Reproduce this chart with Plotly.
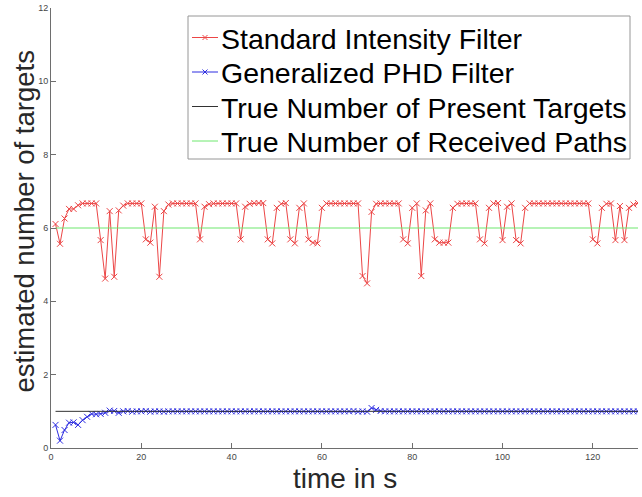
import plotly.graph_objects as go

# time steps in seconds
time_s = list(range(1, 131))

# estimated number of targets, standard intensity filter
standard_filter = [
    6.11, 5.57, 6.26, 6.52, 6.52, 6.62, 6.67, 6.67, 6.67, 6.67,
    5.67, 4.62, 6.46, 4.67, 6.48, 6.61, 6.67, 6.67, 6.67, 6.67,
    5.69, 5.60, 6.58, 4.67, 6.46, 6.64, 6.67, 6.67, 6.67, 6.67,
    6.67, 6.67, 5.69, 6.58, 6.65, 6.67, 6.67, 6.67, 6.67, 6.67,
    6.67, 5.69, 6.58, 6.66, 6.68, 6.68, 6.68, 5.69, 5.58, 6.55,
    6.66, 6.68, 5.69, 5.58, 6.55, 6.67, 5.69, 5.60, 5.58, 6.55,
    6.67, 6.67, 6.67, 6.67, 6.67, 6.67, 6.67, 6.67, 4.69, 4.49,
    6.44, 6.66, 6.67, 6.67, 6.67, 6.67, 6.67, 5.69, 5.58, 6.55,
    6.67, 4.69, 6.48, 6.67, 5.69, 5.60, 5.60, 5.60, 6.55, 6.66,
    6.67, 6.67, 6.67, 6.67, 5.69, 5.58, 6.55, 6.67, 6.68, 5.67,
    6.58, 6.67, 5.67, 5.58, 6.55, 6.67, 6.67, 6.67, 6.67, 6.67,
    6.67, 6.67, 6.67, 6.67, 6.67, 6.67, 6.67, 6.67, 6.67, 5.69,
    5.58, 6.55, 6.66, 6.67, 5.67, 6.60, 5.67, 6.55, 6.64, 6.68,
]

# estimated number of targets, generalized PHD filter
generalized_phd = [
    0.63, 0.20, 0.49, 0.69, 0.70, 0.63, 0.76, 0.85, 0.93, 0.92,
    0.93, 0.96, 1.02, 1.01, 0.96, 1.00, 1.01, 0.99, 1.00, 1.00,
    1.01, 0.99, 1.00, 1.00, 0.99, 1.00, 1.00, 1.00, 1.00, 1.00,
    1.00, 1.00, 1.00, 1.00, 1.00, 1.00, 1.00, 1.00, 1.00, 1.00,
    1.00, 1.00, 1.00, 1.00, 1.00, 1.00, 1.00, 1.00, 1.00, 1.00,
    1.00, 1.00, 1.00, 1.00, 1.00, 1.00, 1.00, 1.00, 1.00, 1.00,
    1.00, 1.00, 1.00, 1.00, 1.00, 1.00, 1.01, 0.99, 1.00, 0.99,
    1.09, 1.04, 1.01, 1.00, 1.00, 1.00, 1.00, 1.00, 1.00, 1.00,
    1.00, 1.00, 1.00, 1.00, 1.00, 1.00, 1.00, 1.00, 1.00, 1.00,
    1.00, 1.00, 1.00, 1.00, 1.00, 1.00, 1.00, 1.00, 1.00, 1.00,
    1.00, 1.00, 1.00, 1.00, 1.00, 1.00, 1.00, 1.00, 1.00, 1.00,
    1.00, 1.00, 1.00, 1.00, 1.00, 1.00, 1.00, 1.00, 1.00, 1.00,
    1.00, 1.00, 1.00, 1.00, 1.00, 1.00, 1.00, 1.00, 1.00, 1.00,
]

true_present_targets = [1] * len(time_s)
true_received_paths = [6] * len(time_s)

series_names = [
    "Standard Intensity Filter",
    "Generalized PHD Filter",
    "True Number of Present Targets",
    "True Number of Received Paths",
]

FONT = "Liberation Sans, Arial, Helvetica, sans-serif"
RED = "rgb(236,70,70)"
BLUE = "rgb(45,45,225)"
BLACK = "rgb(50,50,50)"
GREEN = "rgb(110,232,110)"
series_colors = [RED, BLUE, BLACK, GREEN]
series_has_marker = [True, True, False, False]

fig = go.Figure()
fig.add_trace(go.Scatter(
    x=time_s, y=standard_filter, mode="lines+markers", name=series_names[0],
    line=dict(color=RED, width=1),
    marker=dict(symbol="x-thin", size=6, line=dict(width=1, color=RED)),
))
fig.add_trace(go.Scatter(
    x=time_s, y=generalized_phd, mode="lines+markers", name=series_names[1],
    line=dict(color=BLUE, width=1),
    marker=dict(symbol="x-thin", size=6, line=dict(width=1, color=BLUE)),
))
fig.add_trace(go.Scatter(
    x=time_s, y=true_present_targets, mode="lines", name=series_names[2],
    line=dict(color=BLACK, width=1),
))
fig.add_trace(go.Scatter(
    x=time_s, y=true_received_paths, mode="lines", name=series_names[3],
    line=dict(color=GREEN, width=1.2),
))

axis_common = dict(
    showgrid=False, zeroline=False, showline=True,
    linecolor="rgb(110,110,110)", linewidth=1,
    ticks="inside", ticklen=5, tickcolor="rgb(110,110,110)",
    tickfont=dict(family=FONT, size=9, color="rgb(70,70,70)"),
)

# plot area geometry (pixels) used to place the boxed legend
W, H = 642, 497
M_L, M_R, M_T, M_B = 51, 4, 8, 49
PW, PH = W - M_L - M_R, H - M_T - M_B


def px_x(x):
    return (x - M_L) / PW


def px_y(y):
    return (H - M_B - y) / PH


shapes = []
annotations = []

# legend frame
shapes.append(dict(type="rect", xref="paper", yref="paper",
                   x0=px_x(188), x1=px_x(630), y0=px_y(159), y1=px_y(16),
                   line=dict(color="rgb(150,150,150)", width=1),
                   fillcolor="white", layer="above"))

row_y = [37.5, 72, 106.5, 141]
for name, color, marked, ry in zip(series_names, series_colors, series_has_marker, row_y):
    shapes.append(dict(type="line", xref="paper", yref="paper",
                       x0=px_x(192), x1=px_x(218), y0=px_y(ry), y1=px_y(ry),
                       line=dict(color=color, width=1), layer="above"))
    if marked:
        d = 2.5
        cx = 205
        path = (f"M{px_x(cx - d)},{px_y(ry - d)} L{px_x(cx + d)},{px_y(ry + d)} "
                f"M{px_x(cx - d)},{px_y(ry + d)} L{px_x(cx + d)},{px_y(ry - d)}")
        shapes.append(dict(type="path", xref="paper", yref="paper", path=path,
                           line=dict(color=color, width=1), layer="above"))
    annotations.append(dict(text=name, xref="paper", yref="paper",
                            x=px_x(219), y=px_y(ry + 1), xanchor="left", yanchor="middle",
                            showarrow=False,
                            font=dict(family=FONT, size=28.5, color="black")))

annotations.append(dict(text="time in s", xref="paper", yref="paper", x=0.5, y=0,
                        yshift=-30, xanchor="center", yanchor="middle", showarrow=False,
                        font=dict(family=FONT, size=28, color="rgb(40,40,40)")))
annotations.append(dict(text="estimated number of targets", xref="paper", yref="paper",
                        x=0, y=px_y(221.5), xshift=-27, xanchor="center", yanchor="middle",
                        textangle=-90, showarrow=False,
                        font=dict(family=FONT, size=27.5, color="rgb(40,40,40)")))

fig.update_layout(
    width=W, height=H,
    margin=dict(l=M_L, r=M_R, t=M_T, b=M_B),
    paper_bgcolor="white", plot_bgcolor="white",
    font=dict(family=FONT),
    xaxis=dict(range=[0, 130], tickvals=[0, 20, 40, 60, 80, 100, 120], **axis_common),
    yaxis=dict(range=[0, 12], tickvals=[0, 2, 4, 6, 8, 10, 12], **axis_common),
    showlegend=False,
    shapes=shapes,
    annotations=annotations,
)

fig.write_html("out.html")
